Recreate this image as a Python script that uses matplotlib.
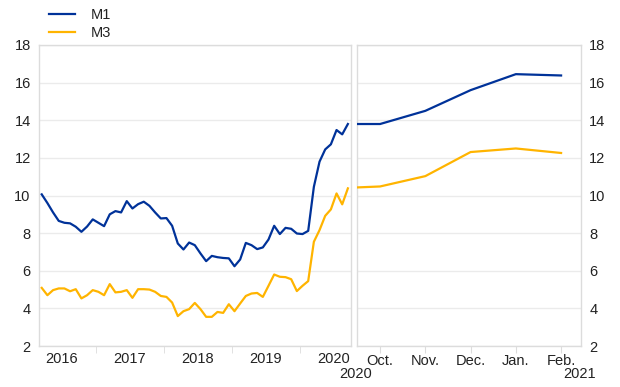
import numpy as np
import matplotlib.pyplot as plt
from matplotlib.lines import Line2D

plt.rcParams['font.family'] = ['Liberation Sans', 'DejaVu Sans']

## monthly history, Mar 2016 - Sep 2020
m1_hist = [10.06, 9.6, 9.1, 8.65, 8.55, 8.52, 8.34, 8.07, 8.35, 8.73,
           8.55, 8.37, 9.0, 9.17, 9.1, 9.7, 9.31, 9.54, 9.67, 9.45,
           9.1, 8.78, 8.8, 8.39, 7.45, 7.13, 7.5, 7.36, 6.92, 6.51,
           6.79, 6.72, 6.68, 6.66, 6.24, 6.6, 7.48, 7.36, 7.15, 7.24,
           7.66, 8.39, 7.95, 8.28, 8.23, 7.98, 7.95, 8.12, 10.46, 11.8,
           12.45, 12.72, 13.48, 13.25, 13.8]
m3_hist = [5.09, 4.70, 4.97, 5.06, 5.06, 4.91, 5.02, 4.53, 4.70, 4.97,
           4.88, 4.70, 5.29, 4.85, 4.88, 4.97, 4.56, 5.02, 5.02, 5.0,
           4.88, 4.66, 4.61, 4.31, 3.59, 3.85, 3.96, 4.29, 3.96, 3.55,
           3.55, 3.81, 3.76, 4.22, 3.85, 4.26, 4.66, 4.79, 4.82, 4.61,
           5.2, 5.8, 5.68, 5.66, 5.55, 4.92, 5.2, 5.45, 7.54, 8.16,
           8.92, 9.26, 10.11, 9.53, 10.38]
years = ["2016", "2017", "2018", "2019", "2020"]

## recent months, Sep 2020 - Feb 2021
months = ["Sep.", "Oct.", "Nov.", "Dec.", "Jan.", "Feb."]
m1_recent = [13.8, 13.8, 14.5, 15.6, 16.45, 16.38]
m3_recent = [10.38, 10.48, 11.03, 12.31, 12.5, 12.26]

blue = "#003299"
yellow = "#ffb400"
grid_c = "#ebebeb"
spine_c = "#dcdcdc"
text_c = "#222222"

fig = plt.figure(figsize=(6.2, 3.87), dpi=100)
ax1 = fig.add_axes([39/620, 41/387, 312/620, 301/387])
ax2 = fig.add_axes([357/620, 41/387, 224/620, 301/387])

x_hist = np.arange(len(m1_hist))
x_recent = np.arange(len(months))

ax1.plot(x_hist, m1_hist, color=blue, lw=1.6, zorder=3)
ax1.plot(x_hist, m3_hist, color=yellow, lw=1.6, zorder=3)
ax2.plot(x_recent, m1_recent, color=blue, lw=1.6, zorder=3)
ax2.plot(x_recent, m3_recent, color=yellow, lw=1.6, zorder=3)

for ax in (ax1, ax2):
    ax.set_ylim(2, 18)
    ax.set_yticks(range(2, 19, 2))
    ax.grid(axis='y', color=grid_c, lw=1)
    ax.set_axisbelow(True)
    for s in ax.spines.values():
        s.set_color(spine_c)
        s.set_linewidth(1)
    ax.tick_params(axis='y', length=0, labelsize=10.5, labelcolor=text_c, pad=6)
    ax.tick_params(axis='x', which='both', labelsize=10.5, labelcolor=text_c)

## left panel: years labelled mid-year, ticks at year boundaries
ax1.set_xlim(-0.48, 54.55)
first_jan = 9.5  # Jan 2017 boundary
ax1.set_xticks([first_jan - 6 + 12*i for i in range(len(years))])
ax1.set_xticklabels(years)
ax1.tick_params(axis='x', which='major', length=0, pad=4)
ax1.set_xticks([first_jan + 12*i for i in range(4)], minor=True)
ax1.tick_params(axis='x', which='minor', length=5, color=spine_c)

## right panel
ax2.set_xlim(0.49, 5.44)
ax2.set_xticks(x_recent[1:])
ax2.set_xticklabels(months[1:])
ax2.tick_params(axis='x', length=5, color=spine_c, pad=1)
ax2.yaxis.tick_right()
ax2.tick_params(axis='y', labelleft=False, labelright=True)

fig.text(356/620, 1 - 374/387, "2020", ha='center', va='center', fontsize=10.5, color=text_c)
fig.text(580/620, 1 - 374/387, "2021", ha='center', va='center', fontsize=10.5, color=text_c)

handles = [Line2D([], [], color=blue, lw=1.6), Line2D([], [], color=yellow, lw=1.6)]
fig.legend(handles, ["M1", "M3"], loc='upper left', bbox_to_anchor=(36/620, 1.013),
           frameon=False, fontsize=10.5, handlelength=1.8, handletextpad=1.05,
           labelspacing=0.3, labelcolor=text_c)

fig.savefig("out.png", dpi=100)
